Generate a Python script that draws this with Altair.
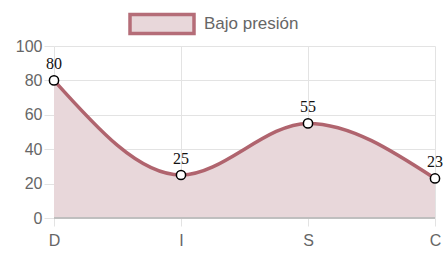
import altair as alt
import pandas as pd

categories = ["D", "I", "S", "C"]
values = [80, 25, 55, 23]
y_ticks = [0, 20, 40, 60, 80, 100]
series = "Bajo presión"

df = pd.DataFrame({"cat": categories, "val": values, "serie": [series] * 4})

line_color = "#b0646e"
fill_color = "#e8d7da"

x_axis = alt.Axis(title=None, labelAngle=0, tickSize=8, labelPadding=6)
y_axis = alt.Axis(title=None, values=y_ticks, tickCount=6, tickSize=10, labelPadding=2)
y_scale = alt.Scale(domain=[0, 100], nice=False)

x = alt.X("cat:N", sort=categories, scale=alt.Scale(type="point", padding=0), axis=x_axis)
y = alt.Y("val:Q", scale=y_scale, axis=y_axis)

base = alt.Chart(df)

area = base.mark_area(interpolate="monotone", opacity=1).encode(
    x=x, y=y,
    color=alt.Color("serie:N", scale=alt.Scale(range=[fill_color]),
                    legend=alt.Legend(title=None, orient="none", legendX=74, legendY=-56,
                                      symbolType="M-1,-0.3H1V0.3H-1Z", symbolSize=4096,
                                      symbolFillColor=fill_color, symbolStrokeColor="#b56d78",
                                      symbolStrokeWidth=3.5, labelFontSize=17,
                                      labelColor="#666666", labelFont="Liberation Sans",
                                      labelOffset=8, symbolOpacity=1)))

zero = base.mark_rule(color="#bdbdbd", strokeWidth=1).encode(
    y=alt.Y(datum=0, type="quantitative", scale=y_scale, axis=y_axis))

line = base.mark_line(interpolate="monotone", color=line_color, strokeWidth=3.5).encode(x=x, y=y)

pts = base.mark_point(filled=True, fill="white", stroke="black", strokeWidth=1.5, size=85,
                      opacity=1).encode(x=x, y=y)

labels = base.mark_text(dy=-16, font="Liberation Serif", fontSize=16, color="#111111").encode(
    x=x, y=y, text="val:Q")

chart = alt.layer(area, zero, line, pts, labels).properties(
    width=381, height=172,
    autosize=alt.AutoSizeParams(type="none"),
    padding={"left": 54, "top": 46, "right": 10, "bottom": 43},
).configure_view(stroke=None).configure_axis(
    labelFontSize=16, labelColor="#666666", labelFont="Liberation Sans", grid=True,
    gridColor="#e3e3e3", tickColor="#e3e3e3", domain=False, labelOverlap=False,
    labelFlush=False,
)

chart.save("out.html", embed_options={"renderer": "svg", "actions": False})
